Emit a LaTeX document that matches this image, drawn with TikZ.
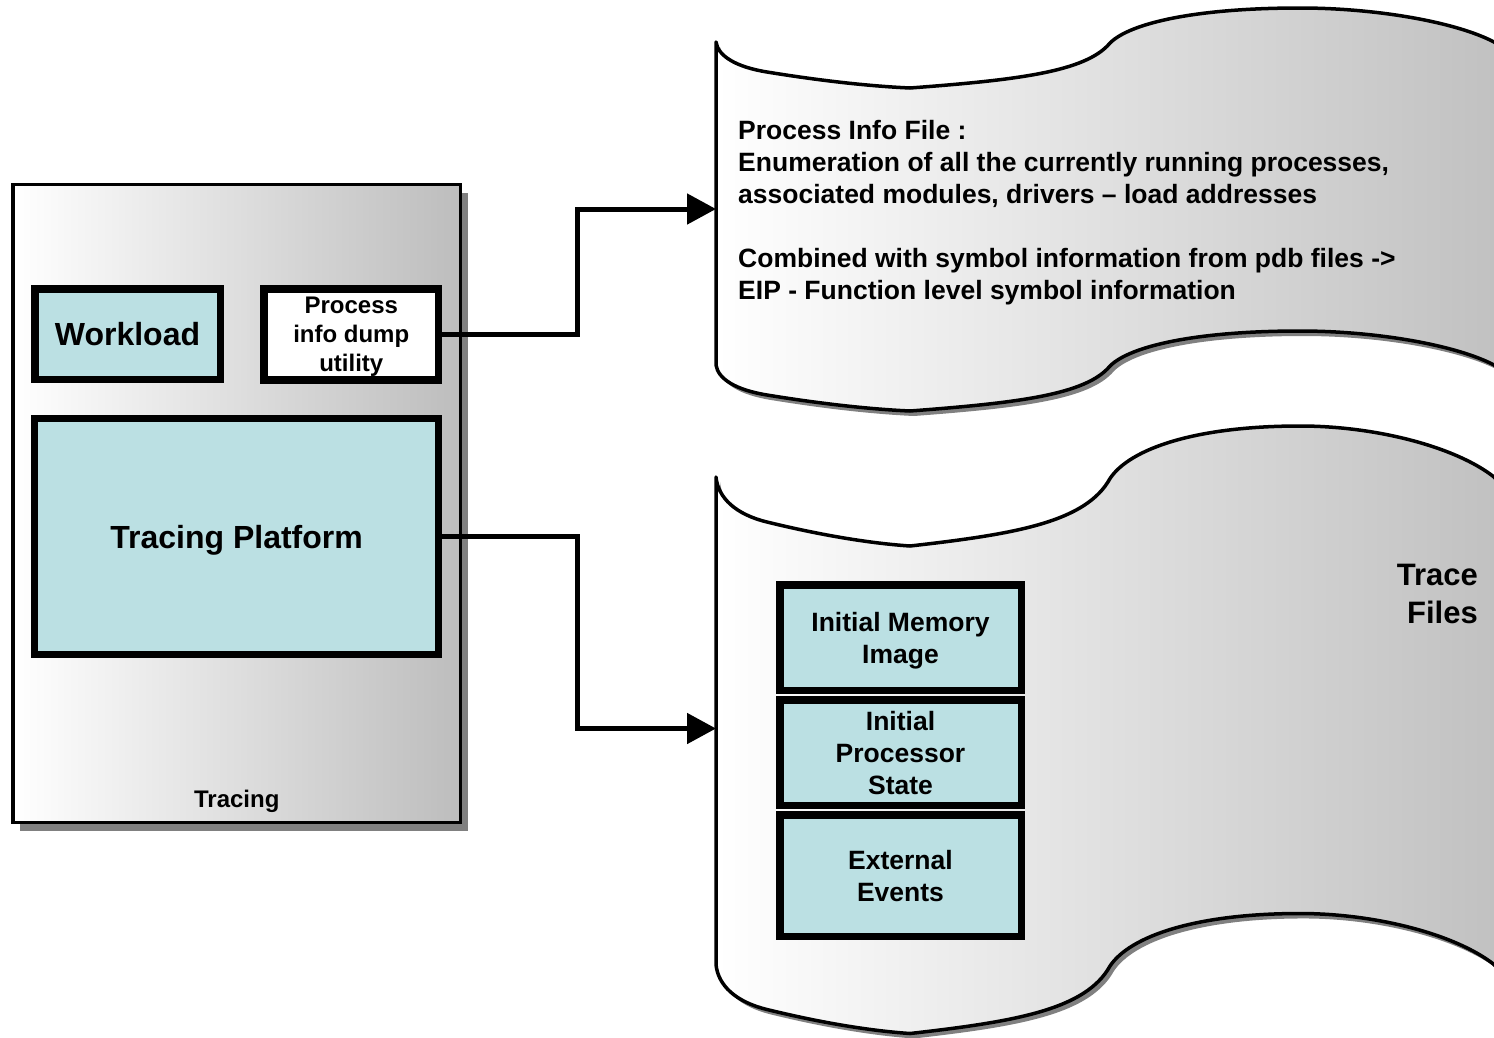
\documentclass[tikz,border=0pt]{standalone}
\usepackage{fontspec}
\setmainfont{Liberation Sans}
\usetikzlibrary{arrows.meta,shadows}

\definecolor{boxfill}{RGB}{187,224,227}
\definecolor{shadowgray}{RGB}{128,128,128}
\definecolor{shadeend}{RGB}{189,189,189}

\newcommand{\setfs}[2]{\fontsize{#1}{#2}\selectfont}

% wavy "tape" document outline; origin at the top-left corner,
% #1 = vertical distance between the upper and the lower wave
\newcommand{\wavedoc}[1]{%
  (0,0) .. controls (2,14) and (20,25) .. (51,30)
  .. controls (100,38) and (150,44) .. (194,46)
  .. controls (300,38) and (370,30) .. (394,1)
  .. controls (414,-19) and (480,-34) .. (584,-34)
  .. controls (660,-34) and (740,-20) .. (778,0)
  -- (830,40) -- (830,#1+40) -- (778,#1)
  .. controls (740,#1-20) and (660,#1-34) .. (584,#1-34)
  .. controls (480,#1-34) and (414,#1-19) .. (394,#1+1)
  .. controls (370,#1+30) and (300,#1+38) .. (194,#1+46)
  .. controls (150,#1+44) and (100,#1+38) .. (51,#1+30)
  .. controls (20,#1+25) and (2,#1+14) .. (0,#1)
  -- cycle}

\tikzset{
  thickbox/.style={draw=black, line width=7.5pt, fill=boxfill, inner sep=0pt,
    align=center, text depth=0pt, font=\bfseries},
  docshape/.style={left color=white, right color=shadeend, draw=black,
    line width=3.5pt, line join=round},
  docshadow/.style={fill=shadowgray},
  conn/.style={line width=5pt, -{Triangle[length=29pt,width=30pt]}},
}

\begin{document}
\begin{tikzpicture}[x=1pt,y=-1pt]
\useasboundingbox (0,0) rectangle (1494,1037);
\clip (0,0) rectangle (1494,1037);
\fill[white] (0,0) rectangle (1494,1037);

% ---- tracing panel ----
\node[draw=black, line width=3.5pt, left color=white, right color=shadeend,
      minimum width=447.5pt, minimum height=638pt, inner sep=0pt,
      drop shadow={shadow xshift=7pt, shadow yshift=-8pt, opacity=1, fill=shadowgray}]
      (tracing) at (236.75,503.5) {};
\node[font=\bfseries\setfs{24pt}{29pt}, anchor=base] (tracinglbl) at (236.75,807) {Tracing};

\node[thickbox, minimum width=185.5pt, minimum height=90.5pt,
      font=\bfseries\setfs{32pt}{38pt}] (workload) at (127.5,334) {Workload};
\node[thickbox, fill=white, minimum width=174.5pt, minimum height=91pt,
      font=\bfseries\setfs{24pt}{29pt}] (dump) at (351.25,334.5) {Process\\info dump\\utility};
\node[thickbox, minimum width=403.75pt, minimum height=235.75pt,
      font=\bfseries\setfs{32pt}{38pt}] (platform) at (236.6,536.6) {Tracing Platform};

% ---- process info file ----
\begin{scope}[shift={(716,42)}]
  \fill[docshadow, shift={(4,5)}] \wavedoc{323};
  \path[docshape] \wavedoc{323};
\end{scope}
\node[anchor=north west, align=left, inner sep=0pt, font=\bfseries\setfs{26.5pt}{32pt}]
  (pinfotext) at (738,120.5)
  {Process Info File :\\
   Enumeration of all the currently running processes,\\
   associated modules, drivers – load addresses\\[32pt]
   Combined with symbol information from pdb files ->\\
   EIP - Function level symbol information};

% ---- trace files ----
\begin{scope}[shift={(716,477)}, yscale=1.5]
  \fill[docshadow, shift={(4,3.3)}] \wavedoc{325};
  \path[docshape] \wavedoc{325};
\end{scope}
\node[thickbox, minimum width=241.5pt, minimum height=105.5pt,
      font=\bfseries\setfs{26.5pt}{32pt}] (memimg) at (900.5,637.5) {Initial Memory\\Image};
\node[thickbox, minimum width=241.5pt, minimum height=105.5pt,
      font=\bfseries\setfs{26.5pt}{32pt}] (cpustate) at (900.5,752.5) {Initial\\Processor\\State};
\node[thickbox, minimum width=241.5pt, minimum height=121.5pt,
      font=\bfseries\setfs{26.5pt}{32pt}] (extev) at (900.5,875.5) {External\\Events};
\node[anchor=north east, align=right, inner sep=0pt, font=\bfseries\setfs{31pt}{38.5pt}]
  (tracefiles) at (1478,563.5) {Trace\\Files};

% ---- connectors ----
\coordinate (pinfo) at (716,209);
\coordinate (tfiles) at (716,728.5);
\draw[conn] (dump.east) -- ++(135.5,0) |- (pinfo);
\draw[conn] (platform.east) -- ++(135.5,0) |- (tfiles);
\end{tikzpicture}
\end{document}
